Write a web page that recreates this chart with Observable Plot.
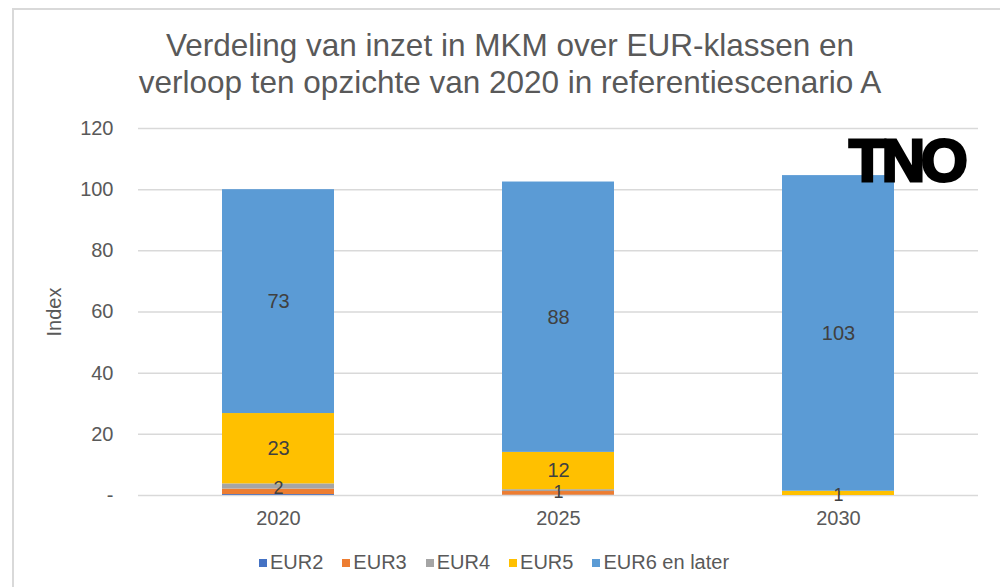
<!DOCTYPE html>
<html>
<head>
<meta charset="utf-8">
<script src="https://cdn.jsdelivr.net/npm/d3@7"></script>
<script src="https://cdn.jsdelivr.net/npm/@observablehq/plot@0.6"></script>
<style>
  html, body { margin: 0; padding: 0; background: #fff; }
  body { width: 1000px; height: 587px; position: relative; overflow: hidden; font-family: "Liberation Sans", Arial, sans-serif; }
  #frame { position: absolute; left: 12px; top: 8px; width: 990px; height: 590px; border-top: 2px solid #d9d9d9; border-left: 2px solid #d9d9d9; }
  #title { position: absolute; left: 0; top: 27px; width: 1020px; text-align: center; color: #595959; font-size: 31.5px; line-height: 37px; }
  #chart { position: absolute; left: 0; top: 0; }
  #logo { position: absolute; left: 849px; top: 128px; font-family: "Liberation Sans", Arial, sans-serif; font-weight: bold; font-size: 60px; letter-spacing: -4px; color: #000; -webkit-text-stroke: 3px #000; line-height: 66px; }
  #legend { position: absolute; left: 0; top: 551px; width: 1000px; display: flex; justify-content: flex-start; padding-left: 259px; box-sizing: border-box; color: #595959; font-size: 20px; }
  .item { display: flex; align-items: center; margin-right: 19px; white-space: nowrap; }
  .sw { width: 8px; height: 8px; margin-right: 3px; display: inline-block; }
</style>
</head>
<body>
<div id="frame"></div>
<div id="title">Verdeling van inzet in MKM over EUR-klassen en<br>verloop ten opzichte van 2020 in referentiescenario A</div>
<div id="chart"></div>
<div id="logo">TNO</div>
<div id="legend"></div>
<script>
const years = ["2020", "2025", "2030"];
const seriesNames = ["EUR2", "EUR3", "EUR4", "EUR5", "EUR6 en later"];
const seriesColors = ["#4472C4", "#ED7D31", "#A5A5A5", "#FFC000", "#5B9BD5"];
const EUR2 = [0.3, 0.1, 0];
const EUR3 = [1.8, 1.2, 0];
const EUR4 = [1.7, 0.6, 0];
const EUR5 = [23.0, 12.2, 1.4];
const EUR6 = [73.2, 88.4, 103.2];
const labeledSeries = ["EUR4", "EUR5", "EUR6 en later"];
const yTicks = [0, 20, 40, 60, 80, 100, 120];

const seriesValues = [EUR2, EUR3, EUR4, EUR5, EUR6];
const data = [];
years.forEach((year, i) => {
  seriesNames.forEach((s, j) => {
    data.push({year, series: s, value: seriesValues[j][i]});
  });
});
const isLabeled = d => labeledSeries.includes(d.series) && d.value >= 0.5;
const bigText = d => (isLabeled(d) && d.value >= 5) ? String(Math.round(d.value)) : "";
const smallText = d => (isLabeled(d) && d.value < 5) ? String(Math.round(d.value)) : "";

const plot = Plot.plot({
  width: 1000,
  height: 587,
  marginLeft: 138,
  marginRight: 22,
  marginTop: 128,
  marginBottom: 92,
  style: {fontFamily: "'Liberation Sans', Arial, sans-serif", background: "transparent", overflow: "visible"},
  x: {domain: years, paddingInner: 0.6, paddingOuter: 0.3, label: null},
  y: {domain: [0, 120], label: null},
  color: {domain: seriesNames, range: seriesColors},
  marks: [
    Plot.gridY(yTicks, {stroke: "#d9d9d9", strokeOpacity: 1, strokeWidth: 1.5}),
    Plot.barY(data, Plot.stackY({x: "year", y: "value", z: "series", fill: "series", order: null})),
    Plot.text(data, Plot.stackY({x: "year", y: "value", z: "series", order: null, text: bigText, fill: "#404040", fontSize: 20})),
    Plot.text(data, Plot.stackY({x: "year", y: "value", z: "series", order: null, text: smallText, fill: "#404040", fontSize: 18, dy: 2})),
    Plot.axisY(yTicks, {tickSize: 0, tickPadding: 25, fontSize: 20, fill: "#595959", tickFormat: d => d === 0 ? "-" : String(d),
      label: "Index", labelAnchor: "center", labelArrow: "none", labelOffset: 92}),
    Plot.axisX({tickSize: 0, tickPadding: 15, fontSize: 20, fill: "#595959", label: null})
  ]
});
document.getElementById("chart").appendChild(plot);

const legend = document.getElementById("legend");
seriesNames.forEach((s, j) => {
  const item = document.createElement("div");
  item.className = "item";
  const sw = document.createElement("span");
  sw.className = "sw";
  sw.style.background = seriesColors[j];
  item.appendChild(sw);
  item.appendChild(document.createTextNode(s));
  legend.appendChild(item);
});
</script>
</body>
</html>
